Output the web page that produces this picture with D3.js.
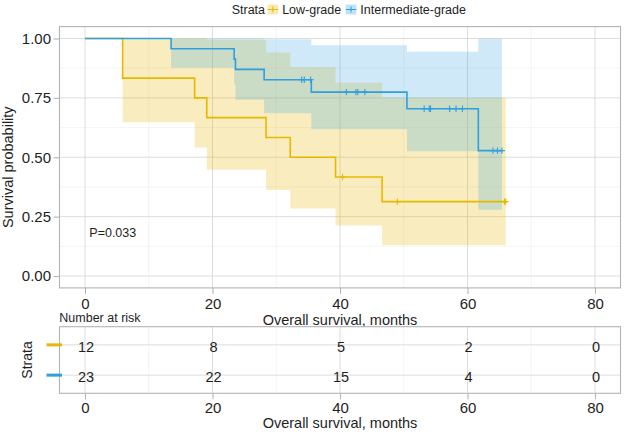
<!DOCTYPE html>
<html>
<head>
<meta charset="utf-8">
<script src="https://cdn.jsdelivr.net/npm/d3@7"></script>
<style>
  body { margin: 0; background: #fff; }
  svg { display: block; }
  text { font-family: "Liberation Sans", Arial, Helvetica, sans-serif; }
</style>
</head>
<body>
<div id="chart"></div>
<script>
// strata
const strata = ["Low-grade", "Intermediate-grade"];
const colors = ["#E7B800", "#2E9FDF"];

// Low-grade KM curve (time in months, survival, 95% CI)
const lowTime  = [0, 5.9, 17.2, 19.1, 28.4, 32.2, 39.3, 46.6, 66.0];
const lowSurv  = [1, 0.833, 0.750, 0.667, 0.583, 0.500, 0.417, 0.313, 0.313];
const lowUpper = [1, 1, 1, 0.995, 0.941, 0.880, 0.814, 0.751, 0.751];
const lowLower = [1, 0.647, 0.541, 0.447, 0.362, 0.284, 0.213, 0.130, 0.130];
const lowCensor = [40.4, 49.0, 65.8, 66.0];

// Intermediate-grade KM curve
const intTime  = [0, 13.5, 23.4, 23.6, 28.1, 35.5, 50.5, 61.7, 65.4];
const intSurv  = [1, 0.957, 0.913, 0.870, 0.826, 0.774, 0.704, 0.528, 0.528];
const intUpper = [1, 1, 1, 1, 0.997, 0.971, 0.944, 0.999, 0.999];
const intLower = [1, 0.877, 0.805, 0.742, 0.685, 0.618, 0.525, 0.279, 0.279];
const intCensor = [34.0, 34.4, 35.4, 41.0, 42.5, 42.8, 43.9, 53.2, 54.0, 54.2,
                   57.2, 58.2, 59.2, 64.0, 64.7, 65.4];

// number at risk table
const riskTimes = [0, 20, 40, 60, 80];
const riskLow = [12, 8, 5, 2, 0];
const riskInt = [23, 22, 15, 4, 0];

// axis ticks
const xTicks = [0, 20, 40, 60, 80];
const xMinor = [10, 30, 50, 70];
const yTicks = [0, 0.25, 0.5, 0.75, 1];
const yMinor = [0.125, 0.375, 0.625, 0.875];
const pLabel = "P=0.033";

const width = 624, height = 432;
const left = 59.5, right = 620.5;
const mainTop = 26.6, mainBottom = 287.9;
const riskTop = 326.7, riskBottom = 393.3;
const font = 15;
const textCol = "#1e1e1e";
const borderCol = "#b3b3b3";

const curves = [
  { name: strata[0], color: colors[0], time: lowTime, surv: lowSurv, up: lowUpper, lo: lowLower, cens: lowCensor },
  { name: strata[1], color: colors[1], time: intTime, surv: intSurv, up: intUpper, lo: intLower, cens: intCensor }
];
const rows = [riskLow, riskInt];

const svg = d3.select("#chart").append("svg")
  .attr("width", width)
  .attr("height", height)
  .attr("viewBox", `0 0 ${width} ${height}`);

const x = d3.scaleLinear().domain([-4, 84]).range([left, right]);
const y = d3.scaleLinear().domain([-0.05, 1.05]).range([mainBottom, mainTop]);
const yRisk = d3.scalePoint().domain(strata).range([riskTop, riskBottom]).padding(0.6);

function grid(g, top, bottom, hLines, hMinor) {
  g.selectAll(".xm").data(xMinor).join("line")
    .attr("x1", d => x(d)).attr("x2", d => x(d))
    .attr("y1", top).attr("y2", bottom)
    .attr("stroke", "#ececec").attr("stroke-width", 0.6);
  g.selectAll(".ym").data(hMinor).join("line")
    .attr("x1", left).attr("x2", right)
    .attr("y1", d => d).attr("y2", d => d)
    .attr("stroke", "#ececec").attr("stroke-width", 0.6);
  g.selectAll(".xM").data(xTicks).join("line")
    .attr("x1", d => x(d)).attr("x2", d => x(d))
    .attr("y1", top).attr("y2", bottom)
    .attr("stroke", "#d9d9d9").attr("stroke-width", 0.9);
  g.selectAll(".yM").data(hLines).join("line")
    .attr("x1", left).attr("x2", right)
    .attr("y1", d => d).attr("y2", d => d)
    .attr("stroke", "#d9d9d9").attr("stroke-width", 0.9);
}

// ---- main panel ----
grid(svg.append("g"), mainTop, mainBottom, yTicks.map(y), yMinor.map(y));

const area = d3.area()
  .curve(d3.curveStepAfter)
  .x(d => x(d.t))
  .y0(d => y(d.lo))
  .y1(d => y(d.up));

const line = d3.line()
  .curve(d3.curveStepAfter)
  .x(d => x(d.t))
  .y(d => y(d.s));

curves.forEach(c => {
  c.pts = c.time.map((t, i) => ({ t: t, s: c.surv[i], up: c.up[i], lo: c.lo[i] }));
});

svg.append("g").selectAll("path").data(curves).join("path")
  .attr("d", c => area(c.pts))
  .attr("fill", c => c.color)
  .attr("fill-opacity", (c, i) => i ? 0.23 : 0.25);

svg.append("g").selectAll("path").data(curves).join("path")
  .attr("d", c => line(c.pts))
  .attr("fill", "none")
  .attr("stroke", c => c.color)
  .attr("stroke-width", 1.6);

// censor marks
function survAt(c, t) {
  let s = 1;
  c.time.forEach((ti, i) => { if (ti <= t) s = c.surv[i]; });
  return s;
}
curves.forEach(c => {
  svg.append("g").selectAll("path").data(c.cens).join("path")
    .attr("d", t => {
      const px = x(t), py = y(survAt(c, t));
      return `M${px - 3},${py}H${px + 3}M${px},${py - 3.2}V${py + 3.2}`;
    })
    .attr("stroke", c.color)
    .attr("stroke-width", 1.1)
    .attr("fill", "none");
});

svg.append("rect")
  .attr("x", left).attr("y", mainTop)
  .attr("width", right - left).attr("height", mainBottom - mainTop)
  .attr("fill", "none").attr("stroke", borderCol).attr("stroke-width", 1.1);

function styleAxis(g) {
  g.select(".domain").remove();
  g.selectAll(".tick line").attr("stroke", borderCol).attr("stroke-width", 1.1);
  g.selectAll(".tick text").attr("fill", textCol).style("font-size", font + "px")
    .style("font-family", '"Liberation Sans", Arial, sans-serif');
}

svg.append("g")
  .attr("transform", `translate(0,${mainBottom})`)
  .call(d3.axisBottom(x).tickValues(xTicks).tickSize(6).tickPadding(4).tickFormat(d3.format("d")))
  .call(styleAxis);

svg.append("g")
  .attr("transform", `translate(${left},0)`)
  .call(d3.axisLeft(y).tickValues(yTicks).tickSize(6).tickPadding(2.5).tickFormat(d3.format(".2f")))
  .call(styleAxis);

svg.append("text")
  .attr("x", (left + right) / 2).attr("y", 324.5)
  .attr("text-anchor", "middle").attr("fill", textCol)
  .style("font-size", "14.5px")
  .text("Overall survival, months");

svg.append("text")
  .attr("transform", `translate(12.5,${(mainTop + mainBottom) / 2 + 10}) rotate(-90)`)
  .attr("text-anchor", "middle").attr("fill", textCol)
  .style("font-size", "14.5px")
  .text("Survival probability");

svg.append("text")
  .attr("x", 89.3).attr("y", 237)
  .attr("fill", textCol)
  .style("font-size", "12.5px")
  .text(pLabel);

// ---- legend ----
const leg = svg.append("g");
const legY = 14;
let lx = 231.7;
const legTitle = leg.append("text").attr("x", lx).attr("y", legY)
  .attr("fill", textCol).style("font-size", "12.5px").text("Strata");
lx += legTitle.node().getComputedTextLength() + 2.5;
curves.forEach(c => {
  const k = leg.append("g").attr("transform", `translate(${lx},4.5)`);
  k.append("rect").attr("width", 10.6).attr("height", 10)
    .attr("fill", c.color).attr("fill-opacity", 0.3);
  k.append("path").attr("d", "M0,5H10.6M5.3,2V8")
    .attr("stroke", c.color).attr("stroke-width", 1).attr("fill", "none");
  lx += 10.6 + 4;
  const t = leg.append("text").attr("x", lx).attr("y", legY)
    .attr("fill", textCol).style("font-size", "12.5px").text(c.name);
  lx += t.node().getComputedTextLength() + 4.5;
});

// ---- risk table ----
const rg = svg.append("g");
grid(rg, riskTop, riskBottom, strata.map(s => yRisk(s)), []);

rg.append("rect")
  .attr("x", left).attr("y", riskTop)
  .attr("width", right - left).attr("height", riskBottom - riskTop)
  .attr("fill", "none").attr("stroke", borderCol).attr("stroke-width", 1.1);

strata.forEach((s, i) => {
  rg.append("g").selectAll("text").data(riskTimes).join("text")
    .attr("x", t => x(t) + 1)
    .attr("y", yRisk(s) + 7.2)
    .attr("text-anchor", "middle")
    .attr("fill", textCol)
    .style("font-size", "14.5px")
    .text((t, j) => rows[i][j]);
  rg.append("rect")
    .attr("x", 46.5).attr("y", yRisk(s) - 1.5)
    .attr("width", 15.5).attr("height", 3)
    .attr("fill", colors[i]);
});

svg.append("g")
  .attr("transform", `translate(0,${riskBottom})`)
  .call(d3.axisBottom(x).tickValues(xTicks).tickSize(6).tickPadding(3).tickFormat(d3.format("d")))
  .call(styleAxis);

svg.append("text")
  .attr("x", (left + right) / 2).attr("y", 428)
  .attr("text-anchor", "middle").attr("fill", textCol)
  .style("font-size", "14.5px")
  .text("Overall survival, months");

svg.append("text")
  .attr("transform", `translate(32,${(riskTop + riskBottom) / 2}) rotate(-90)`)
  .attr("text-anchor", "middle").attr("fill", textCol)
  .style("font-size", "14px")
  .text("Strata");

svg.append("text")
  .attr("x", 59.3).attr("y", 322)
  .attr("fill", textCol)
  .style("font-size", "12.5px")
  .text("Number at risk");
</script>
</body>
</html>
